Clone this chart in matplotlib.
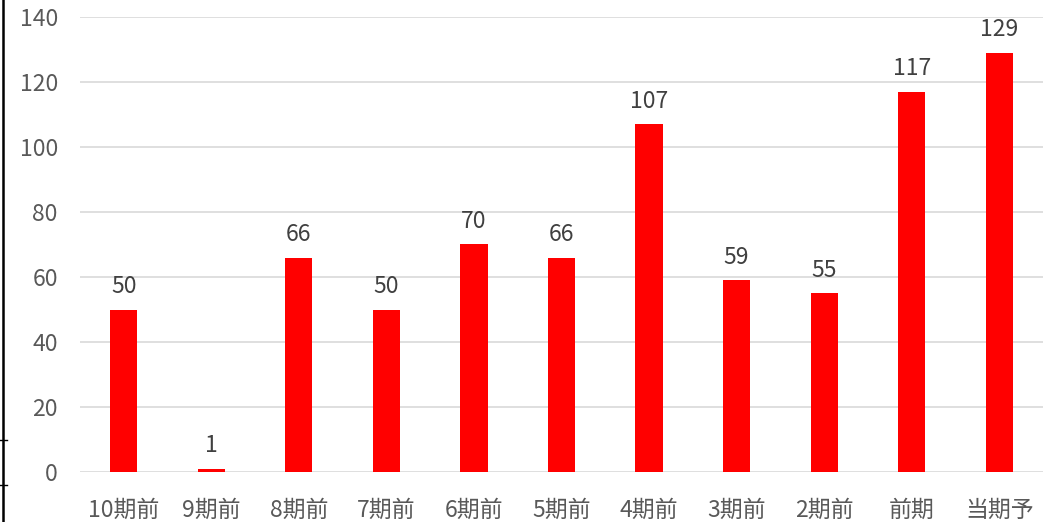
import matplotlib.pyplot as plt
import numpy as np
from matplotlib.lines import Line2D

plt.rcParams['font.family'] = ['Noto Sans CJK JP', 'DejaVu Sans']

# data
categories = ["10期前", "9期前", "8期前", "7期前", "6期前", "5期前", "4期前", "3期前", "2期前", "前期", "当期予"]
values = [50, 1, 66, 50, 70, 66, 107, 59, 55, 117, 129]
y_ticks = [0, 20, 40, 60, 80, 100, 120, 140]

text_color = "#595959"

fig = plt.figure(figsize=(10.58, 5.22), dpi=100)
ax = fig.add_axes([80/1058, 1 - 472/522, 963/1058, 455/522])

x = np.arange(len(categories))
ax.bar(x, values, width=0.31, color="#FF0000", zorder=3)
for xi, v in zip(x, values):
    ax.text(xi, v + 3.5, str(v), ha="center", va="bottom", fontsize=16.5, color="#404040")

ax.set_xlim(-0.5, len(categories) - 0.5)
ax.set_ylim(0, 140)
ax.set_yticks(y_ticks)
ax.set_xticks(x)
ax.set_xticklabels(categories)
ax.tick_params(axis="both", length=0, labelsize=16.5, colors=text_color)
ax.tick_params(axis="y", pad=16)
ax.tick_params(axis="x", pad=19)
ax.grid(axis="y", color="#D9D9D9", lw=1.2, zorder=0)
for s in ax.spines.values():
    s.set_visible(False)

# sheet border on the left
fig.add_artist(Line2D([3/1058, 3/1058], [0, 1], color="black", lw=1.8))
fig.add_artist(Line2D([0, 7/1058], [1 - 440/522, 1 - 440/522], color="black", lw=1))
fig.add_artist(Line2D([0, 7/1058], [1 - 485/522, 1 - 485/522], color="black", lw=1))

plt.savefig("out.png", dpi=100)
